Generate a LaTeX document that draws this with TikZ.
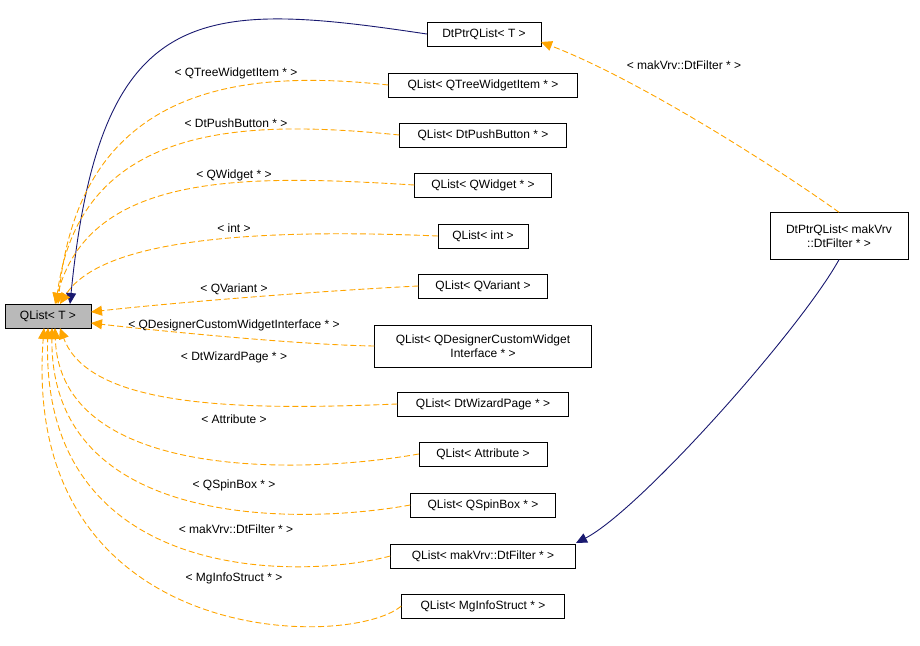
\documentclass[tikz,border=0pt]{standalone}
\usepackage{fontspec}
\setmainfont{Liberation Sans}
\usetikzlibrary{arrows.meta}
\definecolor{og}{RGB}{255,165,0}
\definecolor{nv}{RGB}{25,25,112}
\begin{document}
\begin{tikzpicture}[x=1pt,y=-1pt,
  box/.style={draw,fill=white,inner sep=0pt,minimum height=24pt,align=center,font=\fontsize{12}{14}\selectfont},
  inh/.style={draw=og,dash pattern=on 6pt off 3pt,-{Triangle[length=11pt,width=10pt,fill=og]},line width=0.9pt},
  nav/.style={draw=nv,-{Triangle[length=11pt,width=10pt,fill=nv]},line width=0.9pt},
  lbl/.style={font=\fontsize{12}{14}\selectfont,inner sep=1pt}]
\useasboundingbox (0,0) rectangle (920,645);
\node[box,fill=gray!55,minimum width=86pt] (T) at (48,316) {QList< T >};
\node[box,minimum width=114pt] (P) at (484,34) {DtPtrQList< T >};
\node[box,minimum width=189pt] (a) at (483,85) {QList< QTreeWidgetItem * >};
\node[box,minimum width=167pt] (b) at (483,135) {QList< DtPushButton * >};
\node[box,minimum width=137pt] (c) at (483,185) {QList< QWidget * >};
\node[box,minimum width=90pt] (d) at (483,236) {QList< int >};
\node[box,minimum width=129pt] (e) at (483,286) {QList< QVariant >};
\node[box,minimum width=217pt,minimum height=42pt] (f) at (483,346) {QList< QDesignerCustomWidget\\Interface * >};
\node[box,minimum width=171pt] (g) at (483,404) {QList< DtWizardPage * >};
\node[box,minimum width=128pt] (h) at (483,454) {QList< Attribute >};
\node[box,minimum width=145pt] (i) at (483,505) {QList< QSpinBox * >};
\node[box,minimum width=185pt] (j) at (483,556) {QList< makVrv::DtFilter * >};
\node[box,minimum width=163pt] (k) at (483,606) {QList< MgInfoStruct * >};
\node[box,minimum width=138pt,minimum height=47pt] (M) at (839,236) {DtPtrQList< makVrv\\::DtFilter * >};
\draw[nav] (P.west) .. controls (200,0) and (100,0) .. (70,304);
\draw[inh] (a.west) .. controls (250,70) and (80,80) .. (58,304);
\draw[inh] (b.west) .. controls (250,120) and (80,120) .. (56,304);
\draw[inh] (c.west) .. controls (250,175) and (90,170) .. (55,304);
\draw[inh] (d.west) .. controls (250,228) and (100,240) .. (60,304);
\draw[inh] (e.west) .. controls (300,292) and (150,305) .. (91,312);
\draw[inh] (f.west) .. controls (300,345) and (150,330) .. (91,323);
\draw[inh] (g.west) .. controls (250,410) and (90,410) .. (60,328);
\draw[inh] (h.west) .. controls (300,475) and (60,480) .. (55,328);
\draw[inh] (i.west) .. controls (300,525) and (50,530) .. (52,328);
\draw[inh] (j.west) .. controls (300,580) and (40,585) .. (48,328);
\draw[inh] (k.west) .. controls (350,650) and (20,650) .. (44,328);
\draw[inh] (M.north) .. controls (780,170) and (640,80) .. (541,42);
\draw[nav] (M.south) .. controls (800,330) and (640,510) .. (576,543);
\node[lbl] at (236,73) {< QTreeWidgetItem * >};
\node[lbl] at (236,123) {< DtPushButton * >};
\node[lbl] at (234,175) {< QWidget * >};
\node[lbl] at (234,228) {< int >};
\node[lbl] at (234,289) {< QVariant >};
\node[lbl] at (234,325) {< QDesignerCustomWidgetInterface * >};
\node[lbl] at (234,357) {< DtWizardPage * >};
\node[lbl] at (234,419) {< Attribute >};
\node[lbl] at (234,485) {< QSpinBox * >};
\node[lbl] at (236,529) {< makVrv::DtFilter * >};
\node[lbl] at (234,578) {< MgInfoStruct * >};
\node[lbl] at (684,65) {< makVrv::DtFilter * >};
\end{tikzpicture}
\end{document}
